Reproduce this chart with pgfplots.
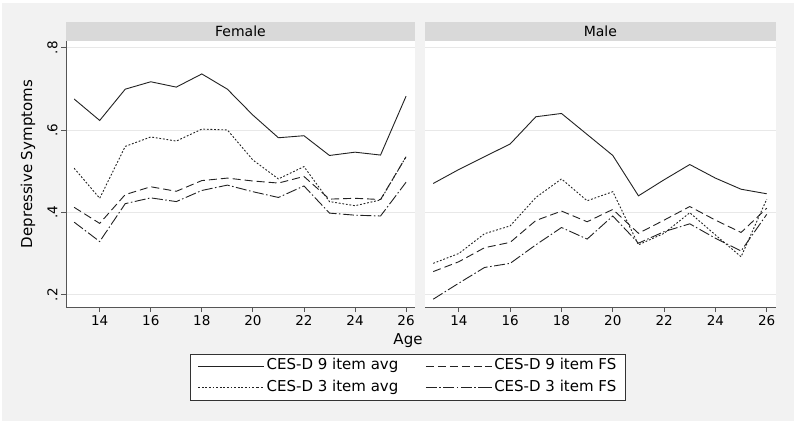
\documentclass[border=0pt]{standalone}
\usepackage{fontspec}
\setmainfont{DejaVu Sans}
\usepackage{pgfplots}
\pgfplotsset{compat=1.18}
\usepackage{pgfplotstable}
\definecolor{bggray}{HTML}{F2F2F2}
\definecolor{stripgray}{HTML}{D9D9D9}
\definecolor{gridgray}{HTML}{E8E8E8}
\definecolor{axgray}{HTML}{555555}
\definecolor{linecol}{HTML}{222222}

\pgfplotstableread{
age avg9 avg3 fs9 fs3
13 0.675 0.507 0.412 0.376
14 0.623 0.434 0.373 0.329
15 0.699 0.560 0.443 0.421
16 0.717 0.583 0.462 0.435
17 0.704 0.573 0.451 0.426
18 0.736 0.602 0.477 0.453
19 0.699 0.600 0.483 0.466
20 0.636 0.527 0.476 0.450
21 0.581 0.481 0.471 0.436
22 0.586 0.511 0.487 0.464
23 0.538 0.426 0.432 0.398
24 0.546 0.416 0.434 0.393
25 0.539 0.430 0.431 0.391
26 0.682 0.535 0.535 0.473
}\female

\pgfplotstableread{
age avg9 avg3 fs9 fs3
13 0.470 0.276 0.256 0.189
14 0.504 0.300 0.280 0.228
15 0.535 0.348 0.314 0.266
16 0.566 0.367 0.327 0.276
17 0.632 0.436 0.380 0.321
18 0.640 0.481 0.403 0.363
19 0.589 0.428 0.377 0.335
20 0.538 0.450 0.407 0.391
21 0.440 0.321 0.349 0.325
22 0.479 0.349 0.381 0.353
23 0.516 0.399 0.414 0.372
24 0.483 0.345 0.381 0.337
25 0.456 0.292 0.351 0.306
26 0.445 0.432 0.410 0.395
}\male

\pgfplotsset{
  panel/.style={
    scale only axis, height=266bp,
    xmin=12.68, xmax=26.35, ymin=0.170, ymax=0.816,
    xtick={14,16,...,26}, xticklabels={14,16,18,20,22,24,26},
    ytick={0.2,0.4,0.6,0.8}, yticklabels={.2,.4,.6,.8},
    ymajorgrids, major grid style={color=gridgray, line width=0.6bp},
    axis x line*=bottom, axis y line*=left,
    axis line style={color=axgray, line width=0.8bp, -},
    tick align=outside, major tick length=5bp,
    tick style={color=axgray, line width=0.8bp},
    xticklabel style={font=\fontsize{13.5bp}{15bp}\selectfont, text=black},
    yticklabel style={font=\fontsize{13.5bp}{15bp}\selectfont, rotate=90, anchor=south, text=black},
    /pgf/number format/assume math mode=true,
    axis background/.style={fill=white},
    every axis plot/.append style={line width=0.9bp, color=linecol, mark=none},
  },
  s9avg/.style={solid},
  s3avg/.style={dash pattern=on 1.8bp off 1.8bp},
  s9fs/.style={dash pattern=on 8bp off 4bp},
  s3fs/.style={dash pattern=on 11bp off 2.5bp on 1.5bp off 2.5bp},
}

\begin{document}
\begin{tikzpicture}[x=1bp,y=1bp]
\fill[white] (0,0) rectangle (800,424);
\fill[bggray] (2,3) rectangle (794,421);

\begin{axis}[panel, width=349bp, at={(66bp,117bp)}, anchor=south west,
  legend columns=2,
  legend cell align=left,
  legend image code/.code={\draw[#1] (0bp,0bp) -- (59bp,0bp); \path (59bp,0bp) -- (66bp,0bp);},
  legend style={at={(0.980,-0.263)}, anchor=center, draw=black!80, line width=0.7bp, fill=white,
    font=\fontsize{15bp}{17bp}\selectfont,
    inner xsep=7bp, inner ysep=3bp, row sep=3bp,
    nodes={text height=11bp, text depth=3.5bp},
    /tikz/every even column/.append style={column sep=25bp}},
]
\addplot[s9avg] table[x=age, y=avg9] {\female};
\addlegendentry{CES-D 9 item avg}
\addplot[s9fs] table[x=age, y=fs9] {\female};
\addlegendentry{CES-D 9 item FS}
\addplot[s3avg] table[x=age, y=avg3] {\female};
\addlegendentry{CES-D 3 item avg}
\addplot[s3fs] table[x=age, y=fs3] {\female};
\addlegendentry{CES-D 3 item FS}
\end{axis}

\begin{axis}[panel, width=350.7bp, at={(425bp,117bp)}, anchor=south west,
  yticklabels={}, y axis line style={draw=none}, ytick style={draw=none}]
\addplot[s9avg] table[x=age, y=avg9] {\male};
\addplot[s9fs] table[x=age, y=fs9] {\male};
\addplot[s3avg] table[x=age, y=avg3] {\male};
\addplot[s3fs] table[x=age, y=fs3] {\male};
\end{axis}

\fill[stripgray] (66,383) rectangle (415,402);
\node[font=\fontsize{14bp}{16bp}\selectfont] at (240.5,392.5) {Female};
\fill[stripgray] (425,383) rectangle (775.7,402);
\node[font=\fontsize{14bp}{16bp}\selectfont] at (600.35,392.5) {Male};

\node[rotate=90, font=\fontsize{15bp}{17bp}\selectfont] at (28,260) {Depressive Symptoms};
\node[font=\fontsize{15bp}{17bp}\selectfont] at (408,83) {Age};
\end{tikzpicture}
\end{document}
